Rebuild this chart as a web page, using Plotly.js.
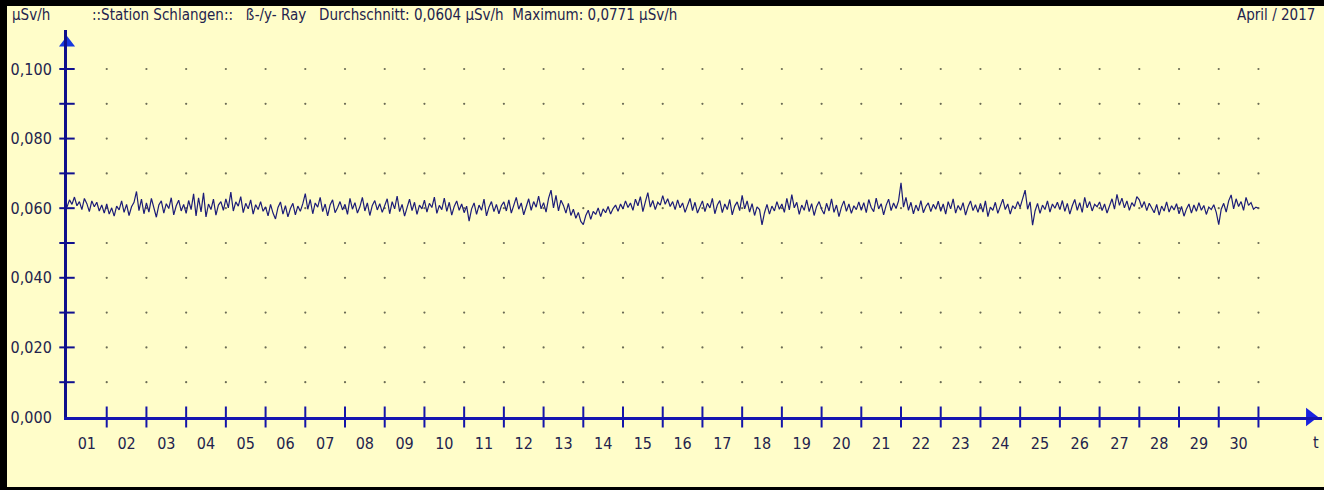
<!DOCTYPE html>
<html>
<head>
<meta charset="utf-8">
<script src="https://cdn.plot.ly/plotly-3.0.1.min.js"></script>
<style>
  html, body { margin: 0; padding: 0; background: #ffffff; }
  #wrap { position: relative; width: 1324px; height: 490px; overflow: hidden; }
  #chart { position: absolute; left: 0; top: 0; width: 1324px; height: 490px; }
  .bar { position: absolute; background: #000; }
</style>
</head>
<body>
<div id="wrap">
  <div id="chart"></div>
  <div class="bar" style="left:0;top:0;width:1324px;height:6px;"></div>
  <div class="bar" style="left:0;top:0;width:7px;height:490px;"></div>
  <div class="bar" style="left:0;top:487px;width:1324px;height:3px;"></div>
</div>
<script>
// ---- data ----
const stationTitle = "::Station Schlangen::\u00a0\u00a0 ß-/y- Ray\u00a0\u00a0 Durchschnitt: 0,0604 µSv/h\u00a0\u00a0Maximum: 0,0771 µSv/h";
const unitLabel = "µSv/h";
const periodLabel = "April / 2017";
const timeLabel = "t";
const dayLabels = ["01","02","03","04","05","06","07","08","09","10","11","12","13","14","15",
                   "16","17","18","19","20","21","22","23","24","25","26","27","28","29","30"];
const yTickValues = [0, 0.02, 0.04, 0.06, 0.08, 0.10];
const yTickLabels = ["0,000","0,020","0,040","0,060","0,080","0,100"];
const yMinorTicks = [0.01, 0.02, 0.03, 0.04, 0.05, 0.06, 0.07, 0.08, 0.09, 0.10];
const sampleHours = 1.5; // one reading every 90 minutes
const doseRate = [
  0.0603,0.0624,0.0611,0.0632,0.0607,0.0619,0.0596,0.0628,0.0613,0.0590,0.0621,0.0604,0.0617,0.0592,0.0609,0.0586,
  0.0612,0.0583,0.0601,0.0577,0.0606,0.0595,0.0621,0.0588,0.0611,0.0579,0.0604,0.0617,0.0648,0.0593,0.0626,0.0584,
  0.0615,0.0589,0.0628,0.0596,0.0574,0.0609,0.0621,0.0586,0.0613,0.0599,0.0630,0.0581,0.0607,0.0623,0.0592,0.0611,
  0.0585,0.0622,0.0596,0.0641,0.0578,0.0630,0.0589,0.0644,0.0575,0.0612,0.0596,0.0626,0.0580,0.0609,0.0619,0.0594,
  0.0627,0.0601,0.0646,0.0592,0.0618,0.0606,0.0633,0.0587,0.0614,0.0598,0.0624,0.0583,0.0610,0.0596,0.0619,0.0591,
  0.0604,0.0578,0.0611,0.0586,0.0569,0.0602,0.0618,0.0583,0.0607,0.0575,0.0599,0.0614,0.0581,0.0606,0.0591,0.0613,
  0.0642,0.0597,0.0625,0.0584,0.0615,0.0603,0.0631,0.0590,0.0612,0.0578,0.0609,0.0624,0.0587,0.0601,0.0619,0.0595,
  0.0611,0.0582,0.0628,0.0597,0.0616,0.0586,0.0604,0.0631,0.0592,0.0615,0.0579,0.0608,0.0622,0.0595,0.0613,0.0588,
  0.0606,0.0627,0.0584,0.0619,0.0598,0.0635,0.0590,0.0611,0.0577,0.0604,0.0626,0.0593,0.0617,0.0582,0.0609,0.0598,
  0.0623,0.0589,0.0614,0.0602,0.0632,0.0585,0.0608,0.0596,0.0629,0.0591,0.0617,0.0580,0.0605,0.0621,0.0594,0.0612,
  0.0587,0.0606,0.0563,0.0598,0.0615,0.0582,0.0609,0.0594,0.0626,0.0578,0.0603,0.0619,0.0590,0.0611,0.0584,0.0607,
  0.0618,0.0592,0.0624,0.0586,0.0610,0.0631,0.0597,0.0615,0.0581,0.0608,0.0627,0.0594,0.0619,0.0603,0.0635,0.0598,
  0.0616,0.0589,0.0628,0.0652,0.0601,0.0637,0.0592,0.0623,0.0608,0.0586,0.0614,0.0579,0.0597,0.0571,0.0588,0.0562,
  0.0553,0.0579,0.0594,0.0568,0.0591,0.0582,0.0601,0.0576,0.0598,0.0587,0.0605,0.0583,0.0599,0.0609,0.0591,0.0612,
  0.0598,0.0621,0.0602,0.0615,0.0594,0.0626,0.0607,0.0633,0.0590,0.0618,0.0645,0.0603,0.0622,0.0596,0.0617,0.0609,
  0.0636,0.0611,0.0627,0.0605,0.0619,0.0596,0.0624,0.0601,0.0615,0.0588,0.0610,0.0628,0.0593,0.0617,0.0586,0.0606,
  0.0621,0.0590,0.0614,0.0601,0.0628,0.0584,0.0609,0.0622,0.0587,0.0612,0.0596,0.0625,0.0581,0.0606,0.0618,0.0593,
  0.0637,0.0598,0.0621,0.0589,0.0613,0.0579,0.0604,0.0596,0.0552,0.0587,0.0611,0.0583,0.0606,0.0592,0.0619,0.0597,
  0.0612,0.0588,0.0628,0.0595,0.0639,0.0601,0.0617,0.0582,0.0609,0.0594,0.0624,0.0590,0.0613,0.0579,0.0605,0.0619,
  0.0597,0.0583,0.0614,0.0592,0.0627,0.0588,0.0609,0.0576,0.0603,0.0621,0.0591,0.0612,0.0585,0.0607,0.0596,0.0618,
  0.0594,0.0616,0.0587,0.0625,0.0602,0.0590,0.0629,0.0598,0.0613,0.0581,0.0608,0.0626,0.0593,0.0615,0.0599,0.0621,
  0.0673,0.0603,0.0631,0.0594,0.0617,0.0584,0.0609,0.0592,0.0622,0.0587,0.0605,0.0615,0.0590,0.0611,0.0597,0.0620,
  0.0591,0.0612,0.0583,0.0619,0.0598,0.0627,0.0586,0.0608,0.0594,0.0616,0.0580,0.0604,0.0621,0.0593,0.0610,0.0588,
  0.0614,0.0589,0.0621,0.0576,0.0603,0.0594,0.0617,0.0585,0.0609,0.0626,0.0596,0.0612,0.0583,0.0607,0.0598,0.0619,
  0.0603,0.0628,0.0652,0.0597,0.0618,0.0551,0.0592,0.0614,0.0585,0.0609,0.0596,0.0621,0.0589,0.0612,0.0600,0.0617,
  0.0596,0.0622,0.0591,0.0614,0.0583,0.0607,0.0625,0.0594,0.0616,0.0588,0.0631,0.0601,0.0619,0.0592,0.0611,0.0604,
  0.0618,0.0593,0.0612,0.0586,0.0609,0.0627,0.0597,0.0640,0.0608,0.0629,0.0601,0.0621,0.0594,0.0616,0.0605,0.0633,
  0.0624,0.0602,0.0619,0.0593,0.0614,0.0598,0.0587,0.0611,0.0580,0.0606,0.0592,0.0618,0.0589,0.0607,0.0595,0.0613,
  0.0584,0.0605,0.0577,0.0598,0.0612,0.0586,0.0609,0.0591,0.0616,0.0594,0.0608,0.0582,0.0603,0.0596,0.0610,0.0588,
  0.0553,0.0597,0.0614,0.0589,0.0621,0.0638,0.0598,0.0627,0.0605,0.0619,0.0594,0.0631,0.0608,0.0616,0.0597,0.0603,
  0.0600
];

// ---- derived ----
const timeDays = doseRate.map((_, i) => i * sampleHours / 24);
const dayCenters = dayLabels.map((_, i) => i + 0.5);
const dayBounds = dayLabels.map((_, i) => i + 1);
const gridX = [], gridY = [];
dayBounds.forEach(d => yMinorTicks.forEach(v => { gridX.push(d); gridY.push(v); }));

const FONT = "Liberation Sans Narrow, Arial Narrow, DejaVu Sans Condensed, sans-serif";
const TXT = "#23234d";
const XMAX = 31.6, YMAX = 0.1112;

const traces = [
  { // grid dots
    x: gridX, y: gridY, type: "scatter", mode: "markers", hoverinfo: "skip",
    marker: { size: 2.2, color: "#6b6b55" }, cliponaxis: false
  },
  { // measured dose rate
    x: timeDays, y: doseRate, type: "scatter", mode: "lines",
    line: { color: "#1c1c78", width: 1.2 }
  },
  { // x tick marks crossing the axis
    x: dayBounds, y: dayBounds.map(() => 0), type: "scatter", mode: "markers",
    marker: { symbol: "line-ns", size: 15, line: { width: 2, color: "#1414a8" } },
    cliponaxis: false, hoverinfo: "skip"
  },
  { // y tick marks crossing the axis
    x: yMinorTicks.map(() => 0), y: yMinorTicks, type: "scatter", mode: "markers",
    marker: { symbol: "line-ew", size: 11, line: { width: 2, color: "#101090" } },
    cliponaxis: false, hoverinfo: "skip"
  },
  { // y arrow head
    x: [0], y: [0.1075], type: "scatter", mode: "markers",
    marker: { symbol: "triangle-up", size: 14, color: "#1638e0" },
    cliponaxis: false, hoverinfo: "skip"
  },
  { // x arrow head
    x: [31.3], y: [0], type: "scatter", mode: "markers",
    marker: { symbol: "triangle-right", size: 16, color: "#1a22e0" },
    cliponaxis: false, hoverinfo: "skip"
  }
];

const layout = {
  width: 1324, height: 490,
  margin: { l: 67, r: 2, t: 30, b: 73, pad: 0 },
  paper_bgcolor: "#fffdc9", plot_bgcolor: "#fffdc9",
  showlegend: false,
  font: { family: FONT, color: TXT, size: 15 },
  xaxis: {
    range: [0, XMAX], showgrid: false, zeroline: false,
    showline: true, linewidth: 3, linecolor: "#1414b0",
    tickmode: "array", tickvals: dayCenters, ticktext: dayLabels,
    ticks: "", ticklabelstandoff: 10,
    tickfont: { family: FONT, size: 16, color: TXT }
  },
  yaxis: {
    range: [0, YMAX], showgrid: false, zeroline: false,
    showline: true, linewidth: 3, linecolor: "#10108c",
    tickmode: "array", tickvals: yTickValues, ticktext: yTickLabels,
    ticks: "", ticklabelstandoff: 9,
    tickfont: { family: FONT, size: 16, color: TXT }
  },
  annotations: [
    { text: unitLabel, xref: "paper", yref: "paper", x: -0.0454, y: 1.04,
      xanchor: "left", yanchor: "middle", showarrow: false, font: { size: 15, color: TXT } },
    { text: stationTitle, xref: "paper", yref: "paper", x: 0.0183, y: 1.04,
      xanchor: "left", yanchor: "middle", showarrow: false, font: { size: 15, color: TXT } },
    { text: periodLabel, xref: "paper", yref: "paper", x: 0.996, y: 1.04,
      xanchor: "right", yanchor: "middle", showarrow: false, font: { size: 15, color: TXT } },
    { text: timeLabel, xref: "paper", yref: "paper", x: 0.9955, y: -0.067,
      xanchor: "center", yanchor: "middle", showarrow: false, font: { size: 16, color: TXT } }
  ]
};

Plotly.newPlot("chart", traces, layout, { displayModeBar: false, staticPlot: true });
</script>
</body>
</html>
